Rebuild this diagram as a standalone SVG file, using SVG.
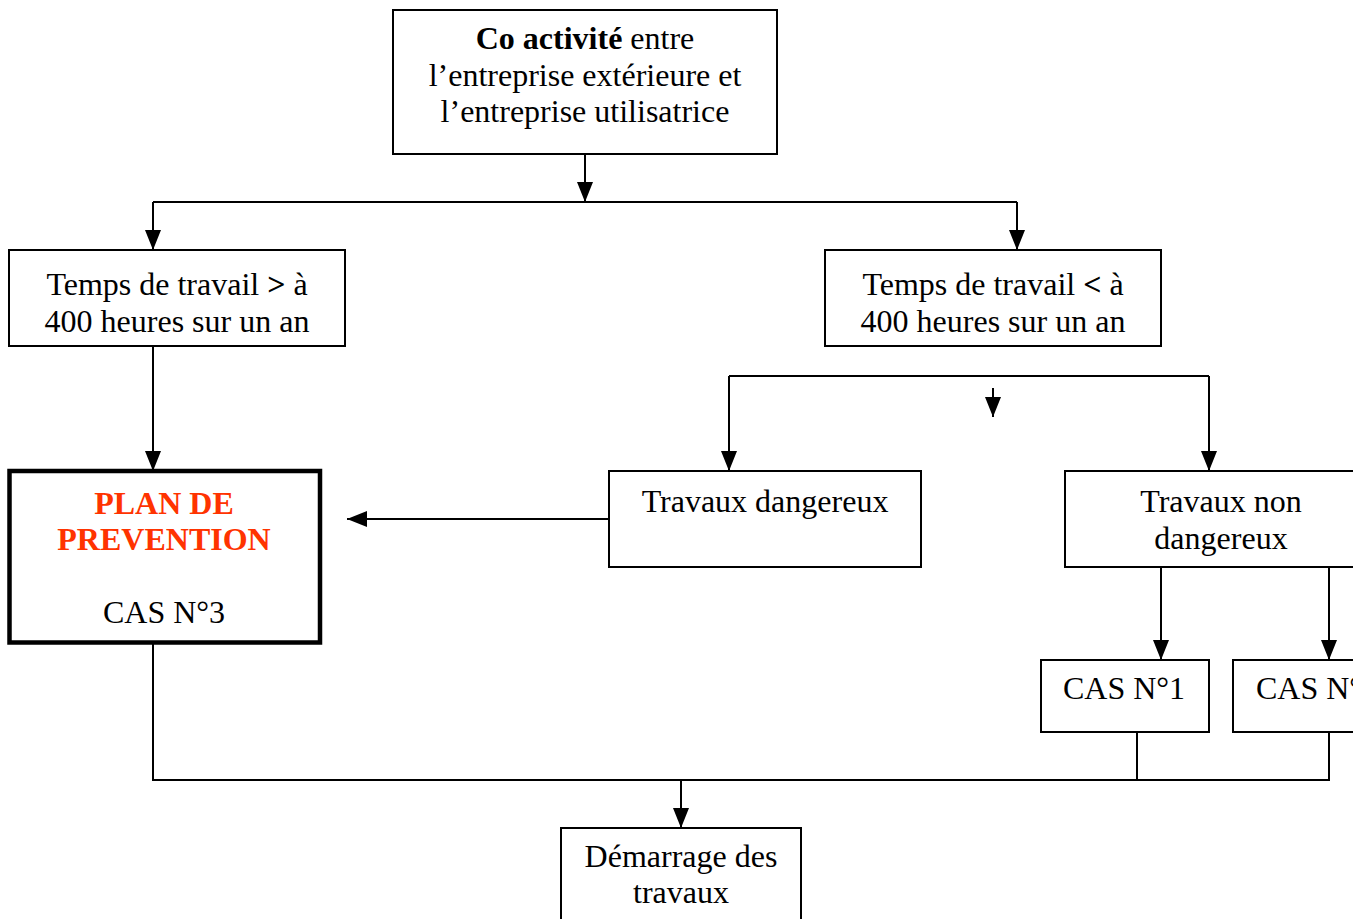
<svg xmlns="http://www.w3.org/2000/svg" width="1370" height="919" viewBox="0 0 1370 919">
<style>
.box{fill:#fff;stroke:#000;stroke-width:2}
.thick{fill:#fff;stroke:#000;stroke-width:4.5}
.t{font-family:"Liberation Serif","Times New Roman",serif;font-size:32px;fill:#000;text-anchor:middle}
.red{fill:#ff3300;font-weight:bold}
.ln{fill:none;stroke:#000;stroke-width:2}
.ar{fill:none;stroke:#000;stroke-width:2;marker-end:url(#ah)}
</style>
<defs>
<marker id="ah" viewBox="0 0 20 16" refX="20" refY="8" markerWidth="20" markerHeight="16" markerUnits="userSpaceOnUse" orient="auto">
<path d="M0,0 L20,8 L0,16 Z" fill="#000"/>
</marker>
<clipPath id="page"><rect x="0" y="0" width="1353" height="919"/></clipPath>
</defs>
<rect x="0" y="0" width="1370" height="919" fill="#fff"/>
<g clip-path="url(#page)">
<g id="connectors">
<path class="ar" d="M585,154 V202"/>
<path class="ln" d="M153,202 H1017"/>
<path class="ar" d="M153,202 V250"/>
<path class="ar" d="M1017,202 V250"/>
<path class="ar" d="M153,346 V471"/>
<path class="ln" d="M729,376 H1209"/>
<path class="ar" d="M729,376 V471"/>
<path class="ar" d="M1209,376 V471"/>
<path class="ar" d="M993,388 V417"/>
<path class="ar" d="M609,519 H347"/>
<path class="ar" d="M1161,567 V660"/>
<path class="ar" d="M1329,564 V660"/>
<path class="ln" d="M153,643 V780 H1329 V732"/>
<path class="ln" d="M1137,732 V780"/>
<path class="ar" d="M681,780 V828"/>
</g>
<g id="n-coactivite">
<rect class="box" x="393" y="10" width="384" height="144"/>
<text class="t" x="585" y="49"><tspan font-weight="bold">Co activité</tspan> entre</text>
<text class="t" x="585" y="86">l’entreprise extérieure et</text>
<text class="t" x="585" y="122">l’entreprise utilisatrice</text>
</g>
<g id="n-sup400">
<rect class="box" x="9" y="250" width="336" height="96"/>
<text class="t" x="177" y="295">Temps de travail <tspan font-weight="bold">&gt;</tspan> à</text>
<text class="t" x="177" y="332">400 heures sur un an</text>
</g>
<g id="n-inf400">
<rect class="box" x="825" y="250" width="336" height="96"/>
<text class="t" x="993" y="295">Temps de travail <tspan font-weight="bold">&lt;</tspan> à</text>
<text class="t" x="993" y="332">400 heures sur un an</text>
</g>
<g id="n-plan">
<rect class="thick" x="9.5" y="471" width="310.5" height="171.5"/>
<text class="t red" x="164" y="514">PLAN DE</text>
<text class="t red" x="164" y="550">PREVENTION</text>
<text class="t" x="164" y="623">CAS N°3</text>
</g>
<g id="n-dangereux">
<rect class="box" x="609" y="471" width="312" height="96"/>
<text class="t" x="765" y="512">Travaux dangereux</text>
</g>
<g id="n-nondangereux">
<rect class="box" x="1065" y="471" width="320" height="96"/>
<text class="t" x="1221" y="512">Travaux non</text>
<text class="t" x="1221" y="549">dangereux</text>
</g>
<g id="n-cas1">
<rect class="box" x="1041" y="660" width="168" height="72"/>
<text class="t" x="1124" y="699">CAS N°1</text>
</g>
<g id="n-cas2">
<rect class="box" x="1233" y="660" width="168" height="72"/>
<text class="t" x="1256" y="699" text-anchor="start" style="text-anchor:start">CAS N°</text>
</g>
<g id="n-demarrage">
<rect class="box" x="561" y="828" width="240" height="110"/>
<text class="t" x="681" y="867">Démarrage des</text>
<text class="t" x="681" y="903">travaux</text>
</g>
</g>
</svg>
